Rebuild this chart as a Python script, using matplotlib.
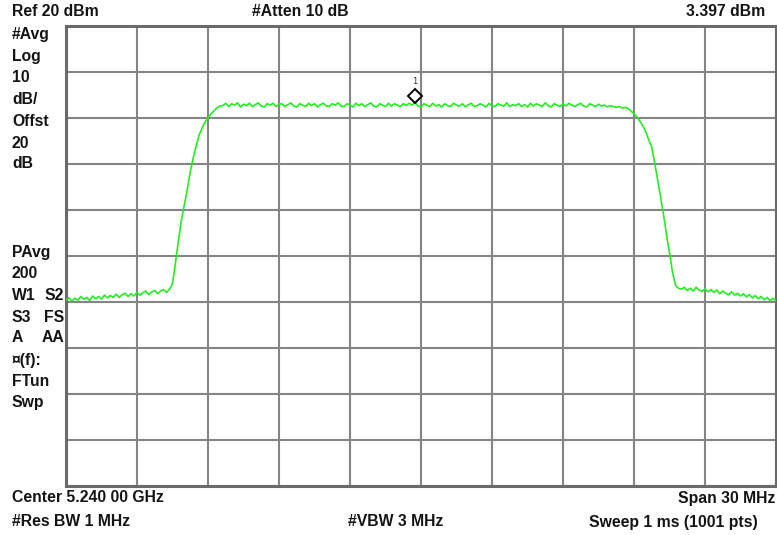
import numpy as np
import matplotlib
matplotlib.use("Agg")
import matplotlib.pyplot as plt
import matplotlib.transforms as mtransforms

# Spectrum analyzer settings
ref_level = 20.0        # dBm, top of screen
db_per_div = 10.0
n_div = 10
span_mhz = 30.0
center_label = "Center 5.240 00 GHz"

# Averaged trace (dBm), equally spaced over the span
trace_left_floor = [
    -39.6, -39.1, -39.8, -39.2, -39.6, -38.8, -39.4, -39.0, -39.7, -38.7,
    -39.3, -38.8, -39.4, -38.5, -39.1, -38.6, -39.0, -38.3, -39.0, -38.4,
    -38.1, -38.8, -38.2, -38.7, -37.9, -38.5, -38.0, -37.6, -38.4, -37.8,
    -37.5, -38.2, -37.6, -37.3, -37.9,
]
trace_rising_edge = [
    -37.2, -36.0, -31.5, -26.7, -22.2, -18.9, -15.6, -11.7, -8.7, -6.1,
    -3.7, -2.2, -0.9, 0.0, 0.9, 1.5, 2.2, 2.6,
]
trace_plateau = [
    2.7, 3.2, 2.5, 3.1, 2.8, 3.3, 2.4, 3.0, 2.7, 3.2, 2.5, 2.9, 3.3, 2.6, 2.4, 3.1, 2.8, 3.2, 2.5, 3.0,
    3.1, 2.5, 2.9, 3.3, 2.6, 2.4, 3.1, 2.8, 2.5, 3.2, 2.7, 3.1, 2.4, 2.9, 3.2, 2.6, 2.5, 3.1, 2.8, 3.3,
    2.6, 2.5, 3.1, 2.8, 2.4, 3.2, 2.7, 3.1, 2.5, 2.9, 3.3, 2.6, 2.4, 3.1, 2.8, 2.5, 3.2, 2.6, 3.1, 2.8,
    2.5, 3.1, 2.7, 3.2, 2.8, 3.397, 2.6, 2.4, 3.1, 2.8, 2.5, 3.2, 2.6, 2.9, 2.4, 3.1, 2.7, 2.5, 3.2, 2.8,
    2.6, 3.1, 2.4, 2.9, 3.2, 2.5, 2.7, 3.1, 2.8, 2.4, 3.2, 2.6, 2.5, 3.1, 2.8, 2.6, 3.3, 2.5, 2.9, 2.7,
    3.1, 2.5, 2.9, 2.4, 3.2, 2.6, 3.1, 2.8, 2.5, 3.3, 2.7, 2.4, 3.1, 2.8, 2.5, 3.1, 2.6, 3.2, 2.8, 2.5,
    2.9, 3.2, 2.6, 2.4, 3.1, 2.8, 2.5, 3.0, 2.6, 2.8, 2.4, 2.7, 2.5, 2.3, 2.5, 2.2,
]
trace_falling_edge = [
    2.3, 2.1, 1.5, 0.9, 0.2, -0.7, -1.7, -3.0, -4.8, -6.3,
    -9.8, -13.5, -17.2, -21.1, -25.4, -29.3, -33.5, -36.3, -37.0,
]
trace_right_floor = [
    -37.2, -36.8, -37.5, -37.0, -37.6, -36.8, -37.4, -37.7, -37.1, -37.8,
    -37.3, -37.9, -37.4, -38.2, -37.6, -38.1, -38.4, -37.8, -38.5, -38.1,
    -38.7, -38.2, -38.9, -38.4, -39.1, -38.6, -39.3, -38.8, -39.5, -39.0,
    -39.7, -39.2, -39.8,
]

# Marker 1 (peak)
marker_value = 3.397
marker_index = len(trace_left_floor) + len(trace_rising_edge) + 65

left_labels = ["#Avg", "Log", "10", "dB/", "Offst", "20", "dB"]
left_label_y = [34, 56, 78, 100, 121, 143, 164]
lower_labels = [("PAvg", ""), ("200", ""), ("W1", "S2"), ("S3", "FS"),
                ("A", "AA"), ("¤(f):", ""), ("FTun", ""), ("Swp", "")]
lower_label_y = [252, 273, 295, 317, 338, 360, 382, 403]

trace = np.array(trace_left_floor + trace_rising_edge + trace_plateau
                 + trace_falling_edge + trace_right_floor)
freq = np.linspace(-span_mhz / 2, span_mhz / 2, len(trace))

W, H = 777, 535
fig = plt.figure(figsize=(W / 100, H / 100), dpi=100)
fig.patch.set_facecolor("white")

x0, x1, y0, y1 = 66, 776, 26, 486
ax = fig.add_axes([x0 / W, 1 - y1 / H, (x1 - x0) / W, (y1 - y0) / H])
bottom_level = ref_level - n_div * db_per_div
ax.set_xlim(-span_mhz / 2, span_mhz / 2)
ax.set_ylim(bottom_level, ref_level)
ax.set_xticks(np.linspace(-span_mhz / 2, span_mhz / 2, n_div + 1))
ax.set_yticks(np.arange(bottom_level, ref_level + 0.1, db_per_div))
ax.tick_params(length=0, labelbottom=False, labelleft=False)
ax.grid(True, color="#858585", linewidth=1.5)
ax.set_axisbelow(True)
for sp in ax.spines.values():
    sp.set_color("#6a6a6a")
    sp.set_linewidth(2.2)

ax.plot(freq, trace, color="#22ee22", linewidth=1.2, zorder=3)

# Marker diamond sits just above the trace point
mf = freq[marker_index]
up = mtransforms.offset_copy(ax.transData, fig=fig, x=0, y=6, units="dots")
ax.plot([mf], [marker_value], marker="D", markersize=7, markerfacecolor="white",
        markeredgecolor="black", markeredgewidth=1.4, transform=up, zorder=4,
        clip_on=False)
lab = mtransforms.offset_copy(ax.transData, fig=fig, x=0, y=21, units="dots")
ax.text(mf, marker_value, "1", transform=lab, fontsize=6, color="#3a2a2a",
        ha="center", va="center", family="DejaVu Sans Mono")

font = dict(family="Liberation Sans", fontweight="bold", fontsize=11.3,
            color="#141414")


def px(x, y, s, ha="left"):
    fig.text(x / W, 1 - y / H, s, ha=ha, va="center", **font)


px(12, 12, f"Ref {ref_level:.0f} dBm")
px(252, 12, "#Atten 10 dB")
px(765, 12, f"{marker_value:.3f} dBm", ha="right")

for s, y in zip(left_labels, left_label_y):
    px(12, y, s)
for (a, b), y in zip(lower_labels, lower_label_y):
    px(12, y, a)
    if b:
        px(64, y, b, ha="right")

px(12, 498, center_label)
px(775, 498, f"Span {span_mhz:.0f} MHz", ha="right")
px(12, 522, "#Res BW 1 MHz")
px(348, 522, "#VBW 3 MHz")
px(758, 522, "Sweep 1 ms (1001 pts)", ha="right")

fig.savefig("out.png", dpi=100, facecolor="white")
